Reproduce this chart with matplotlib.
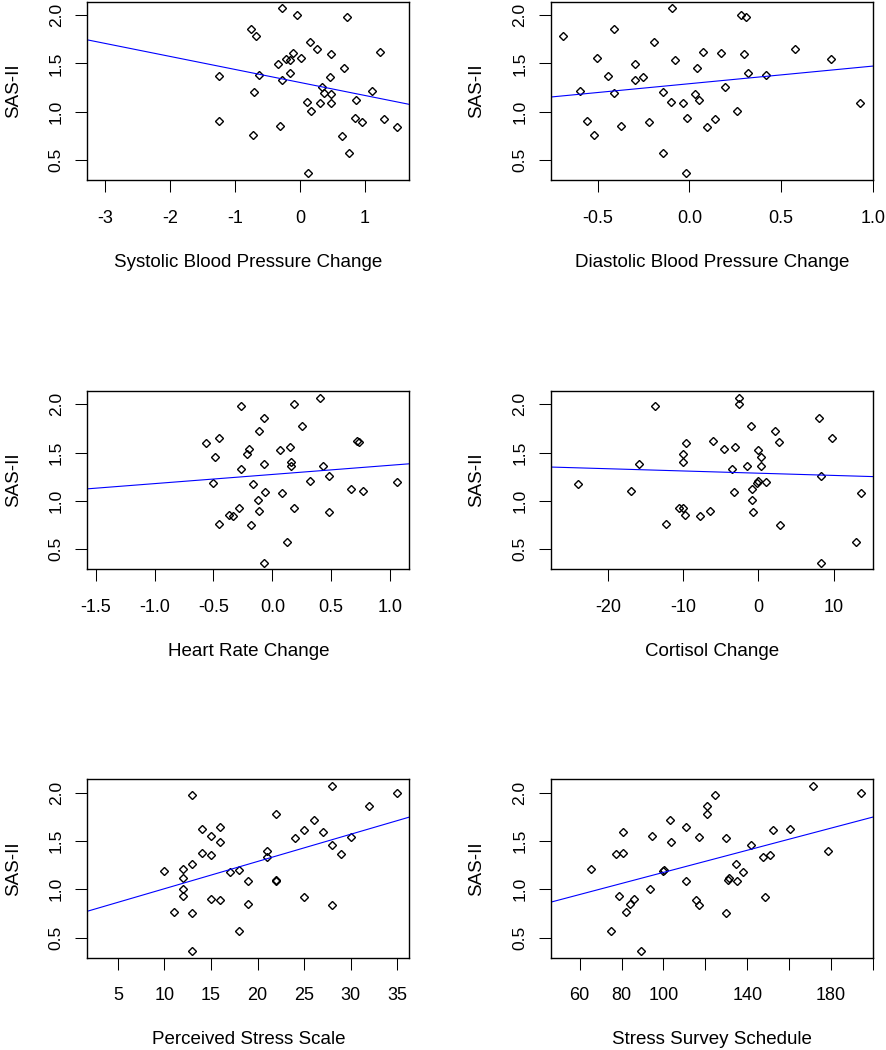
import numpy as np
import matplotlib
matplotlib.use('Agg')
import matplotlib.pyplot as plt

plt.rcParams['font.family'] = ['Liberation Sans', 'DejaVu Sans']

nan = np.nan

# SAS-II score per subject (last subject has no SAS-II value)
sas = [2.07, 2.00, 1.98, 1.86, 1.78, 1.72, 1.65, 1.62, 1.61, 1.595,
       1.555, 1.54, 1.53, 1.49, 1.455, 1.40, 1.38, 1.365, 1.36, 1.33,
       1.26, 1.21, 1.20, 1.19, 1.18, 1.12, 1.10, 1.09, 1.085, 1.005,
       0.93, 0.925, 0.90, 0.89, 0.85, 0.84, 0.76, 0.75, 0.57, 0.36, nan]

sbp = [-0.28, -0.04, 0.73, -0.75, -0.67, 0.15, 0.27, 1.235, -0.11, 0.48,
       0.01, -0.21, -0.155, -0.345, 0.685, -0.155, -0.63, -1.24, 0.46, -0.28,
       0.335, 1.11, -0.71, 0.375, 0.48, 0.87, 0.11, 0.315, 0.48, 0.17,
       0.84, 1.30, -1.245, 0.95, -0.30, 1.50, -0.73, 0.65, 0.76, 0.13, -3.09]

dbp = [-0.094, 0.28, 0.311, -0.408, -0.689, -0.193, 0.577, 0.072, 0.172, 0.296,
       -0.502, 0.77, -0.08, -0.295, 0.043, 0.318, 0.417, -0.445, -0.251, -0.295,
       0.195, -0.596, -0.145, -0.408, 0.029, 0.05, -0.10, -0.036, 0.927, 0.258,
       -0.014, 0.137, -0.555, -0.222, -0.372, 0.094, -0.517, nan, -0.145, -0.018, nan]

hr = [0.407, 0.182, -0.27, -0.068, 0.25, -0.111, -0.45, 0.723, 0.737, -0.564,
      0.148, -0.202, 0.068, -0.213, -0.484, 0.162, -0.068, 0.162, 0.433, -0.27,
      0.478, 0.319, 1.062, -0.507, -0.168, 0.666, 0.771, -0.065, 0.08, -0.122,
      -0.282, 0.182, -0.111, 0.478, -0.367, -0.336, -0.45, -0.179, 0.125, -0.068, -1.47]

cort = [-2.58, -2.58, -13.73, 8.0, -0.98, 2.13, 9.73, -6.09, 2.71, -9.69,
        -3.11, -4.53, -0.13, -10.04, 0.27, -10.04, -15.82, -1.56, 0.27, -3.47,
        8.36, -0.13, 0.98, -0.22, -24.0, -0.84, -16.89, -3.29, 13.64, -0.84,
        -10.53, -10.0, -6.49, -0.67, -9.82, -7.73, -12.27, 2.89, 12.93, 8.36, -26.0]

pss = [28, 35, 13, 32, 22, 26, 16, 14, 25, 27,
       15, 30, 24, 16, 28, 21, 14, 29, 15, 21,
       13, 12, 18, 10, 17, 12, 22, 22, 19, 12,
       12, 25, 15, 16, 19, 28, 11, 13, 18, 13, 3]

sss = [171.3, 194.2, 124.6, 120.7, 120.7, 102.9, 110.6, 160.6, 152.4, 80.75,
       94.6, 116.8, 129.6, 103.6, 141.6, 178.6, 80.75, 77.4, 150.7, 147.5,
       134.7, 65.4, 100.2, 99.6, 137.9, 131.5, 130.9, 110.6, 135.3, 93.4,
       78.7, 148.6, 85.7, 115.5, 83.8, 116.8, 81.9, 129.6, 75.0, 89.5, 52]

# fitted lines (intercept, slope)
intercepts = [1.302, 1.289, 1.274, 1.287, 0.724, 0.602]
slopes = [-0.1348, 0.1827, 0.0949, -0.00231, 0.02822, 0.005733]

xlabels = ['Systolic Blood Pressure Change', 'Diastolic Blood Pressure Change',
           'Heart Rate Change', 'Cortisol Change',
           'Perceived Stress Scale', 'Stress Survey Schedule']
xticks = [[-3, -2, -1, 0, 1], [-0.5, 0.0, 0.5, 1.0],
          [-1.5, -1.0, -0.5, 0.0, 0.5, 1.0], [-20, -10, 0, 10],
          [5, 10, 15, 20, 25, 30, 35], [60, 80, 100, 120, 140, 160, 180, 200]]
xticklabels = [['-3', '-2', '-1', '0', '1'], ['-0.5', '0.0', '0.5', '1.0'],
               ['-1.5', '-1.0', '-0.5', '0.0', '0.5', '1.0'], ['-20', '-10', '0', '10'],
               ['5', '10', '15', '20', '25', '30', '35'],
               ['60', '80', '100', '', '140', '', '180', '']]
yticks = [0.5, 1.0, 1.5, 2.0]
yticklabels = ['0.5', '1.0', '1.5', '2.0']

xdata = [sbp, dbp, hr, cort, pss, sss]


def r_range(v):
    # R's default axis range: data range widened by 4%
    lo, hi = np.nanmin(v), np.nanmax(v)
    d = 0.04 * (hi - lo)
    return lo - d, hi + d


W, H = 886, 1050
lefts = [87.3, 551]
bottoms = [180, 569.3, 957.7]
bw, bh = 322, 178.3

fig = plt.figure(figsize=(W / 100, H / 100), dpi=100)
y = np.array(sas)

for i in range(6):
    row, col = i // 2, i % 2
    ax = fig.add_axes([lefts[col] / W, 1 - bottoms[row] / H, bw / W, bh / H])
    x = np.array(xdata[i], dtype=float)
    ax.plot(x, y, linestyle='none', marker='D', ms=3.6, mfc='none',
            mec='black', mew=1.0)
    ax.axline((0, intercepts[i]), slope=slopes[i], color='blue', lw=0.8)
    ax.set_xlim(r_range(x))
    ax.set_ylim(r_range(y))
    ax.set_xticks(xticks[i], xticklabels[i])
    ax.set_yticks(yticks, yticklabels)
    ax.tick_params(axis='both', direction='out', length=8.4, width=0.75,
                   labelsize=13, colors='black')
    ax.tick_params(axis='x', pad=13)
    ax.tick_params(axis='y', pad=8.5, labelrotation=90, labelsize=12.5)
    for lab in ax.get_yticklabels():
        lab.set_va('center')
    for sp in ax.spines.values():
        sp.set_linewidth(1.0)
    ax.set_xlabel(xlabels[i], fontsize=13.5, va='center')
    ax.xaxis.set_label_coords(0.5, -82 / bh)
    ax.set_ylabel('SAS-II', fontsize=13.5, va='center')
    ax.yaxis.set_label_coords(-74 / bw, 0.5)

fig.savefig('out.png', dpi=100)
